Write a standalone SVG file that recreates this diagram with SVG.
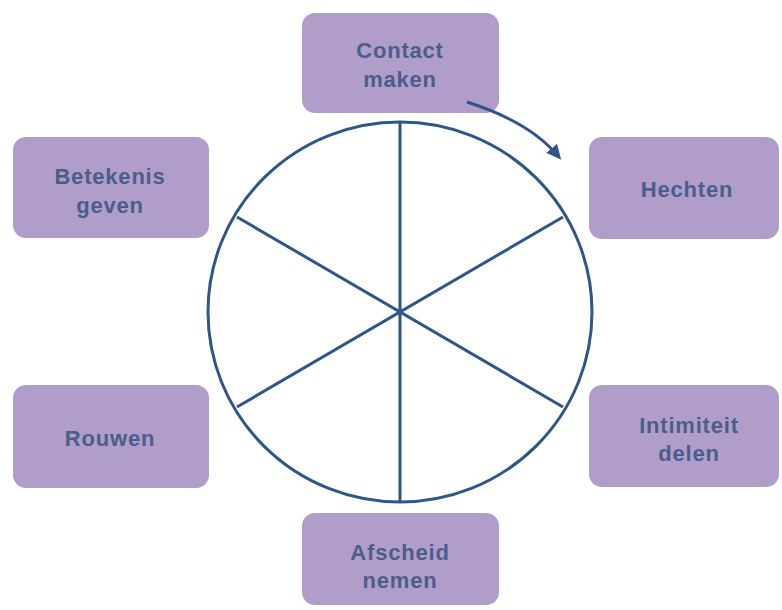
<svg xmlns="http://www.w3.org/2000/svg" width="782" height="610" viewBox="0 0 782 610">
<style>
.box{fill:#b19dc9;}
.lbl{font-family:"Liberation Sans",Arial,sans-serif;font-weight:bold;font-size:22px;fill:#4b5d8c;text-anchor:middle;letter-spacing:0.8px;}
.wheel{fill:none;stroke:#2f5689;stroke-width:3;}
</style>
<defs>
<marker id="ah" markerWidth="15" markerHeight="14" refX="10" refY="7" orient="auto" markerUnits="userSpaceOnUse" viewBox="0 0 15 14">
<path d="M0,0 L15,7 L0,14 Z" fill="#2f5689"/>
</marker>
</defs>
<rect width="782" height="610" fill="#ffffff"/>
<g id="wheel" class="wheel">
<ellipse cx="400" cy="312" rx="192" ry="190"/>
<line x1="400" y1="122" x2="400" y2="502"/>
<line x1="237" y1="217" x2="563" y2="407"/>
<line x1="563" y1="217" x2="237" y2="407"/>
</g>
<g id="contact-maken">
<rect class="box" x="302" y="13" width="197" height="100" rx="13"/>
<text class="lbl" x="400" y="58">Contact</text>
<text class="lbl" x="400" y="87">maken</text>
</g>
<g id="hechten">
<rect class="box" x="589" y="137" width="190" height="102" rx="13"/>
<text class="lbl" x="687" y="197">Hechten</text>
</g>
<g id="intimiteit-delen">
<rect class="box" x="589" y="385" width="190" height="102" rx="13"/>
<text class="lbl" x="689" y="433">Intimiteit</text>
<text class="lbl" x="689" y="461">delen</text>
</g>
<g id="afscheid-nemen">
<rect class="box" x="302" y="513" width="197" height="92" rx="13"/>
<text class="lbl" x="400" y="560">Afscheid</text>
<text class="lbl" x="400" y="588">nemen</text>
</g>
<g id="rouwen">
<rect class="box" x="13" y="385" width="196" height="103" rx="13"/>
<text class="lbl" x="110" y="446">Rouwen</text>
</g>
<g id="betekenis-geven">
<rect class="box" x="13" y="137" width="196" height="101" rx="13"/>
<text class="lbl" x="110" y="184">Betekenis</text>
<text class="lbl" x="110" y="213">geven</text>
</g>
<g id="connectors">
<path d="M467,102 Q530,122 558,156" fill="none" stroke="#2f5689" stroke-width="3" marker-end="url(#ah)"/>
</g>
</svg>
